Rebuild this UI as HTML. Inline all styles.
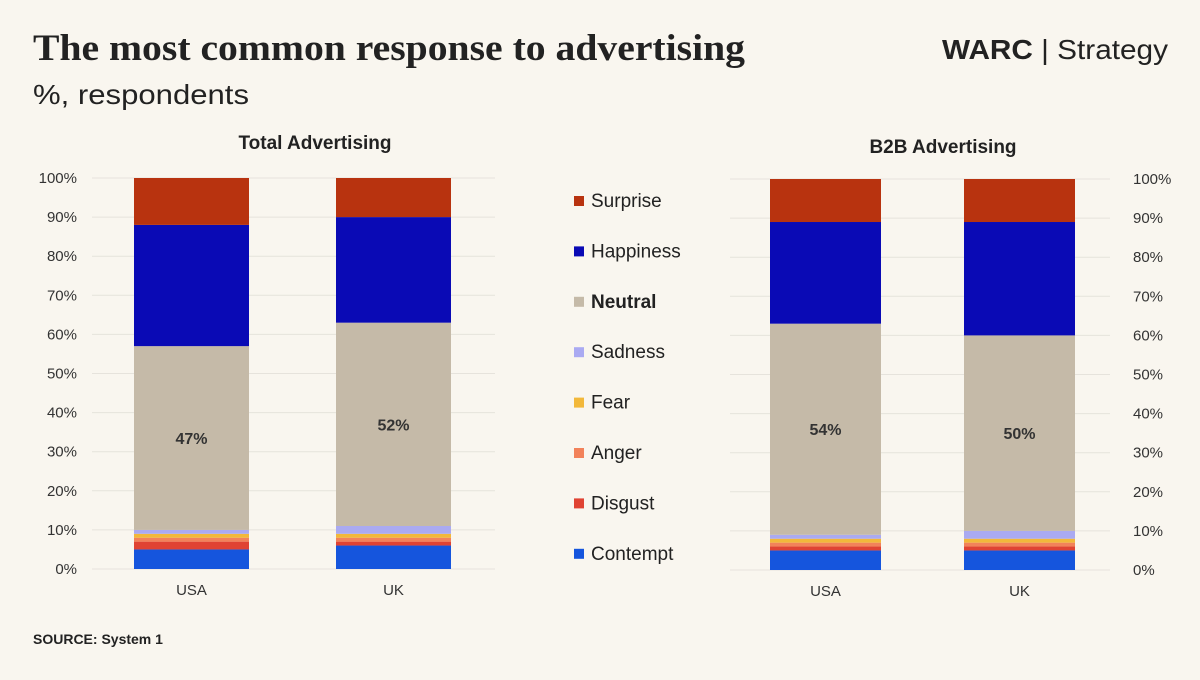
<!DOCTYPE html>
<html><head><meta charset="utf-8"><style>
body{margin:0;background:#f9f6ef;width:1200px;height:675px;overflow:hidden;font-family:"Liberation Sans",sans-serif;}
</style></head><body>
<svg width="1200" height="675" xmlns="http://www.w3.org/2000/svg" id="chart">
<rect width="1200" height="675" fill="#f9f6ef"/>
<text x="33" y="60" font-family="Liberation Serif" font-weight="bold" font-size="37" fill="#222" textLength="712" lengthAdjust="spacingAndGlyphs">The most common response to advertising</text>
<text x="33" y="104" font-size="28" fill="#222" textLength="216" lengthAdjust="spacingAndGlyphs">%, respondents</text>
<text x="942" y="59" font-size="28" fill="#222" textLength="226" lengthAdjust="spacingAndGlyphs"><tspan font-weight="bold">WARC</tspan> | Strategy</text>
<text x="315" y="149" text-anchor="middle" font-size="19" font-weight="bold" fill="#222">Total Advertising</text>
<text x="943" y="153" text-anchor="middle" font-size="19" font-weight="bold" fill="#222">B2B Advertising</text>
<text x="33" y="644" font-size="14" font-weight="bold" fill="#222">SOURCE: System 1</text>
<g id="g"></g>
</svg>
<script>
const categories=["USA","UK"];
const seriesNames=["Contempt","Disgust","Anger","Fear","Sadness","Neutral","Happiness","Surprise"];
const colors=["#1555dd","#e04333","#f2825a","#f2b83a","#aaaaf2","#c5baa8","#0a0ab5","#b8330f"];
const totalUSA=[5,2,1,1,1,47,31,12];
const totalUK=[6,1,1,1,2,52,27,10];
const b2bUSA=[5,1,1,1,1,54,26,11];
const b2bUK=[5,1,1,1,2,50,29,11];
const ticks=[0,10,20,30,40,50,60,70,80,90,100];
const ns="http://www.w3.org/2000/svg";
const g=document.getElementById('g');
function mk(t,a,txt){const e=document.createElementNS(ns,t);for(const k in a)e.setAttribute(k,a[k]);if(txt!==undefined)e.textContent=txt;g.appendChild(e);return e;}
function panel(name,y0,y100,gx1,gx2,labelX,anchor,bars,data){
  const y=v=>y0-(y0-y100)*v/100;
  ticks.forEach(t=>{
    const l=mk('line',{x1:gx1,x2:gx2,y1:y(t),y2:y(t),stroke:'#e6e3dc','stroke-width':1});
    
    
    const tx=mk('text',{x:labelX,y:y(t)+5,'text-anchor':anchor,'font-size':15,fill:'#333'},t+'%');
    
    
  });
  data.forEach((vals,i)=>{
    let acc=0;
    vals.forEach((v,j)=>{
      const r=mk('rect',{x:bars[i][0],width:bars[i][1],y:y(acc+v),height:y(acc)-y(acc+v),fill:colors[j]});
      
      
      if(j===5){
        const lb=mk('text',{x:bars[i][0]+bars[i][1]/2,y:y(acc+v/2)+6,'text-anchor':'middle','font-size':16,'font-weight':'bold',fill:'#333'},v+'%');
        
        
      }
      acc+=v;
    });
    const c=mk('text',{x:bars[i][0]+bars[i][1]/2,y:y0+26,'text-anchor':'middle','font-size':15,fill:'#333'},categories[i]);
    
    
  });
}
panel('total',569,178,92,495,77,'end',[[134,115],[336,115]],[totalUSA,totalUK]);
panel('b2b',570,179,730,1110,1133,'start',[[770,111],[964,111]],[b2bUSA,b2bUK]);
for(let k=7;k>=0;k--){
  const yy=201+(7-k)*50.4;
  const s=mk('rect',{x:574,y:yy-5,width:10,height:10,fill:colors[k]});
  
  
  const t=mk('text',{x:591,y:yy+6,'font-size':19,fill:'#222','font-weight':k===5?'bold':'normal'},seriesNames[k]);
  
  
}
</script>
</body></html>
